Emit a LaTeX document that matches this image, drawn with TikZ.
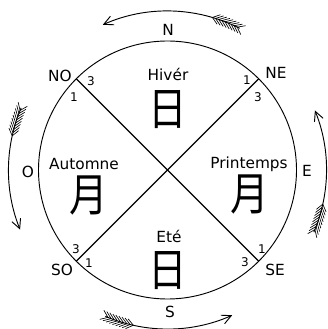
\documentclass[tikz,border=0pt]{standalone}
\usepackage{fontspec}
\setmainfont{DejaVu Sans}
\newfontfamily\cjk{Noto Sans CJK SC}
\usetikzlibrary{arrows.meta,calc}
\begin{document}
\begin{tikzpicture}[x=0.75pt,y=0.75pt,
  lbl/.style={font=\fontsize{11.5}{13}\selectfont, inner sep=0pt},
  num/.style={font=\fontsize{9}{10}\selectfont, inner sep=0pt},
  kanji/.style={font=\cjk\fontsize{34}{36}\selectfont, inner sep=0pt},
  ring/.style={line width=0.7pt},
  diag/.style={line width=0.9pt},
  arr/.style={line width=0.7pt, -{Straight Barb[length=7pt,width=7pt]}},
  barb/.style={line width=0.5pt}
]
\useasboundingbox (0,0) rectangle (328,329);
\coordinate (C) at (167.5,159);
\def\R{129}
\draw[ring] (C) circle[radius=\R];
\coordinate (pNO) at ($(C)+(135:\R)$);
\coordinate (pNE) at ($(C)+(45:\R)$);
\coordinate (pSO) at ($(C)+(225:\R)$);
\coordinate (pSE) at ($(C)+(315:\R)$);
\draw[diag] (pNO) -- (pSE);
\draw[diag] (pNE) -- (pSO);

% compass labels
\node[lbl] (N) at (168,299) {N};
\node[lbl] (S) at (170,17) {S};
\node[lbl] (O) at (28,157) {O};
\node[lbl] (E) at (307,158) {E};
\node[lbl] (NO) at (60,253) {NO};
\node[lbl] (NE) at (276,256) {NE};
\node[lbl] (SO) at (62,59) {SO};
\node[lbl] (SE) at (275,59) {SE};

% numbers
\node[num] (no3) at (91,248) {3};
\node[num] (no1) at (74,232) {1};
\node[num] (ne1) at (247,249) {1};
\node[num] (ne3) at (258,232) {3};
\node[num] (so3) at (76,80) {3};
\node[num] (so1) at (89,66) {1};
\node[num] (se1) at (262,80) {1};
\node[num] (se3) at (245,67) {3};

% seasons
\node[lbl] (hiver) at (168,255) {Hivér};
\node[kanji] (k1) at (168,219) {\scalebox{0.85}[1]{日}};
\node[lbl] (automne) at (84,165) {Automne};
\node[kanji] (k2) at (89,134) {\scalebox{0.85}[1]{月}};
\node[lbl] (printemps) at (249,165) {Printemps};
\node[kanji] (k3) at (250,135) {\scalebox{0.85}[1]{月}};
\node[lbl] (ete) at (169,93) {Eté};
\node[kanji] (k4) at (168,58) {\scalebox{0.85}[1]{日}};

% outer arrows with feathered tails
\def\Ra{159}
\foreach \t/\h in {63/114, 157/202, 247/294, 337/382}{
  \coordinate (tail) at ($(C)+(\t:\Ra)$);
  \draw[arr] (tail) arc[start angle=\t, end angle=\h, radius=\Ra];
  \foreach \a in {1,2.2,...,11}{
    \draw[barb] ($(C)+({\t+\a}:\Ra)$) -- ($(C)+({\t+\a-2.4}:{\Ra+5})$);
    \draw[barb] ($(C)+({\t+\a}:\Ra)$) -- ($(C)+({\t+\a-2.4}:{\Ra-5})$);
  }
}
\end{tikzpicture}
\end{document}
